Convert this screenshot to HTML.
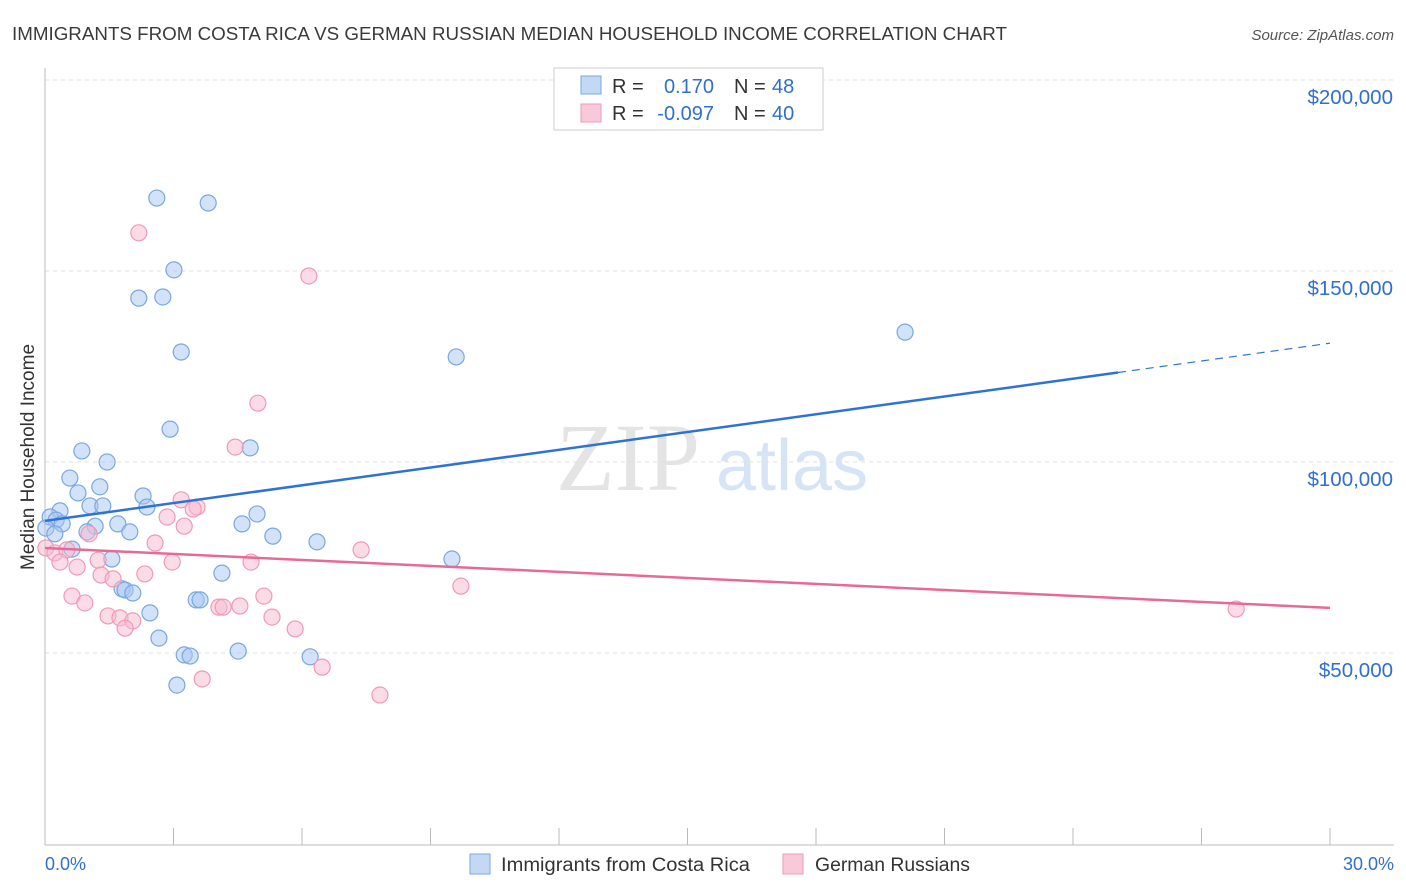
<!DOCTYPE html>
<html><head><meta charset="utf-8">
<style>
body{margin:0;background:#fff;font-family:"Liberation Sans",sans-serif;}
#wrap{position:relative;width:1406px;height:892px;overflow:hidden;}
</style></head>
<body>
<div id="wrap">
<svg id="chart" width="1406" height="892" xmlns="http://www.w3.org/2000/svg">
  <text x="12" y="40" font-size="18" fill="#3a3a3a" textLength="995" lengthAdjust="spacingAndGlyphs">IMMIGRANTS FROM COSTA RICA VS GERMAN RUSSIAN MEDIAN HOUSEHOLD INCOME CORRELATION CHART</text>
  <text x="1394" y="40" font-size="15" fill="#555" font-style="italic" text-anchor="end">Source: ZipAtlas.com</text>
  <text x="700" y="490" font-size="96" fill="#e4e4e4" text-anchor="end" font-family="Liberation Serif, serif">ZIP</text>
  <text x="716" y="490" font-size="72" fill="#d6e4f5">atlas</text>
  <g id="grid"></g>
  <g id="axes"></g>
  <g id="marks"></g>
  <text transform="translate(34,457) rotate(-90)" font-size="19" fill="#333" text-anchor="middle">Median Household Income</text>
  <g>
    <rect x="554" y="68" width="269" height="62" fill="#fff" stroke="#ccc"/>
    <rect x="581" y="76" width="20" height="18" fill="#c2d8f5" stroke="#7aa7e0"/>
    <rect x="581" y="104" width="20" height="18" fill="#f8c9d8" stroke="#ef9ab5"/>
    <text x="612" y="93" font-size="20" fill="#333">R =</text>
    <text x="714" y="93" font-size="20" fill="#2f6fd0" text-anchor="end">0.170</text>
    <text x="734" y="93" font-size="20" fill="#333">N =</text>
    <text x="772" y="93" font-size="20" fill="#2f6fd0">48</text>
    <text x="612" y="120" font-size="20" fill="#333">R =</text>
    <text x="714" y="120" font-size="20" fill="#2f6fd0" text-anchor="end">-0.097</text>
    <text x="734" y="120" font-size="20" fill="#333">N =</text>
    <text x="772" y="120" font-size="20" fill="#2f6fd0">40</text>
  </g>
  <g>
    <rect x="470" y="854" width="20" height="20" fill="#c2d8f5" stroke="#7aa7e0"/>
    <text x="501" y="871" font-size="19" fill="#333" textLength="249" lengthAdjust="spacingAndGlyphs">Immigrants from Costa Rica</text>
    <rect x="783" y="854" width="20" height="20" fill="#f8c9d8" stroke="#ef9ab5"/>
    <text x="815" y="871" font-size="19" fill="#333" textLength="155" lengthAdjust="spacingAndGlyphs">German Russians</text>
  </g>
</svg>
</div>
<script>
const blueX=[2.61,3.81,3.01,2.19,2.75,3.18,9.60,20.08,2.92,0.86,4.79,1.45,0.58,0.77,1.28,2.29,1.05,1.35,2.38,0.35,0.12,0.26,4.95,0.02,0.40,1.17,1.70,4.60,1.98,0.98,5.32,0.23,6.35,0.63,1.56,9.50,4.13,1.80,1.87,2.05,2.45,3.53,3.62,2.66,3.25,3.39,4.51,6.19,3.08];
const blueY=[169.1,167.8,150.3,142.9,143.2,128.8,127.5,134.0,108.6,102.9,103.7,100.0,95.8,91.9,93.5,91.1,88.5,88.5,88.2,87.2,85.6,84.8,86.4,82.7,83.8,83.2,83.8,83.8,81.7,81.7,80.6,81.2,79.1,77.2,74.6,74.6,70.9,66.8,66.5,65.7,60.5,63.9,63.9,53.9,49.5,49.2,50.5,49.0,41.6];
const pinkX=[2.19,6.16,4.97,4.44,3.18,3.55,3.46,2.85,3.25,1.03,2.57,7.38,0.02,0.23,0.51,0.35,1.24,0.75,2.97,4.81,2.33,1.31,1.59,9.71,0.63,0.93,5.11,4.06,4.16,4.55,1.47,1.75,2.05,5.30,1.87,5.84,6.47,3.67,7.82,27.81];
const pinkY=[160.0,148.7,115.4,103.9,90.1,88.2,87.7,85.6,83.2,81.2,78.8,77.0,77.5,76.2,77.0,73.8,74.3,72.5,73.8,73.8,70.7,70.4,69.4,67.5,64.9,63.1,64.9,62.0,62.0,62.3,59.7,59.2,58.4,59.4,56.5,56.3,46.3,43.2,39.0,61.5];
const blueTrend=[84.6,131.1];
const pinkTrend=[77.5,61.8];
const yTicks=[50,100,150,200];
const yTickLabels=["$50,000","$100,000","$150,000","$200,000"];
const xTickLabels=["0.0%","30.0%"];

const NS="http://www.w3.org/2000/svg";
const xs=v=>45+v/30*1285;
const ys=v=>844-v*3.82;
function mk(tag,attrs,parent){const e=document.createElementNS(NS,tag);for(const k in attrs)e.setAttribute(k,attrs[k]);parent.appendChild(e);return e;}
const gridG=document.getElementById('grid'),axesG=document.getElementById('axes'),marksG=document.getElementById('marks');
yTicks.forEach((t,i)=>{
  const l=mk('line',{x1:45,x2:1394,y1:ys(t),y2:ys(t),stroke:'#e0e0e0','stroke-dasharray':'4,4'},gridG);
  
  
  const tx=mk('text',{x:1393,y:ys(t)+24,'font-size':20.5,fill:'#2f6fd0','text-anchor':'end'},axesG);
  tx.textContent=yTickLabels[i];
  
  
});
const yax=mk('line',{x1:45,x2:45,y1:68,y2:845,stroke:'#bbb'},axesG);


const xax=mk('line',{x1:45,x2:1394,y1:845,y2:845,stroke:'#bbb'},axesG);


for(let i=0;i<=10;i++){
  const t=mk('line',{x1:xs(i*3),x2:xs(i*3),y1:828,y2:845,stroke:'#bbb'},axesG);
  
  
}
[[0,'start',45],[30,'end',1394]].forEach((d,i)=>{
  const tx=mk('text',{x:d[2],y:870,'font-size':18,fill:'#2f6fd0','text-anchor':d[1]},axesG);
  tx.textContent=xTickLabels[i];
  
  
});
function pts(X,Y,fill,stroke,name){
  X.forEach((x,i)=>{
    const c=mk('circle',{cx:xs(x),cy:ys(Y[i]),r:8,fill:fill,stroke:stroke,'stroke-width':1.2},marksG);
    
    
  });
}
pts(blueX,blueY,'rgba(165,198,242,0.5)','#7aa7e0','point-costa-rica');
pts(pinkX,pinkY,'rgba(247,185,205,0.5)','#ef9ab5','point-german-russians');
const bSolidEnd=25.05;
const bAt=v=>blueTrend[0]+(blueTrend[1]-blueTrend[0])*v/30;
const bl=mk('line',{x1:xs(0),y1:ys(blueTrend[0]),x2:xs(bSolidEnd),y2:ys(bAt(bSolidEnd)),stroke:'#2f72d6','stroke-width':2.5},marksG);


const bd=mk('line',{x1:xs(bSolidEnd),y1:ys(bAt(bSolidEnd)),x2:xs(30),y2:ys(blueTrend[1]),stroke:'#2f72d6','stroke-width':1.2,'stroke-dasharray':'8,6'},marksG);


const pl=mk('line',{x1:xs(0),y1:ys(pinkTrend[0]),x2:xs(30),y2:ys(pinkTrend[1]),stroke:'#e86a94','stroke-width':2.5},marksG);


</script>
</body></html>
